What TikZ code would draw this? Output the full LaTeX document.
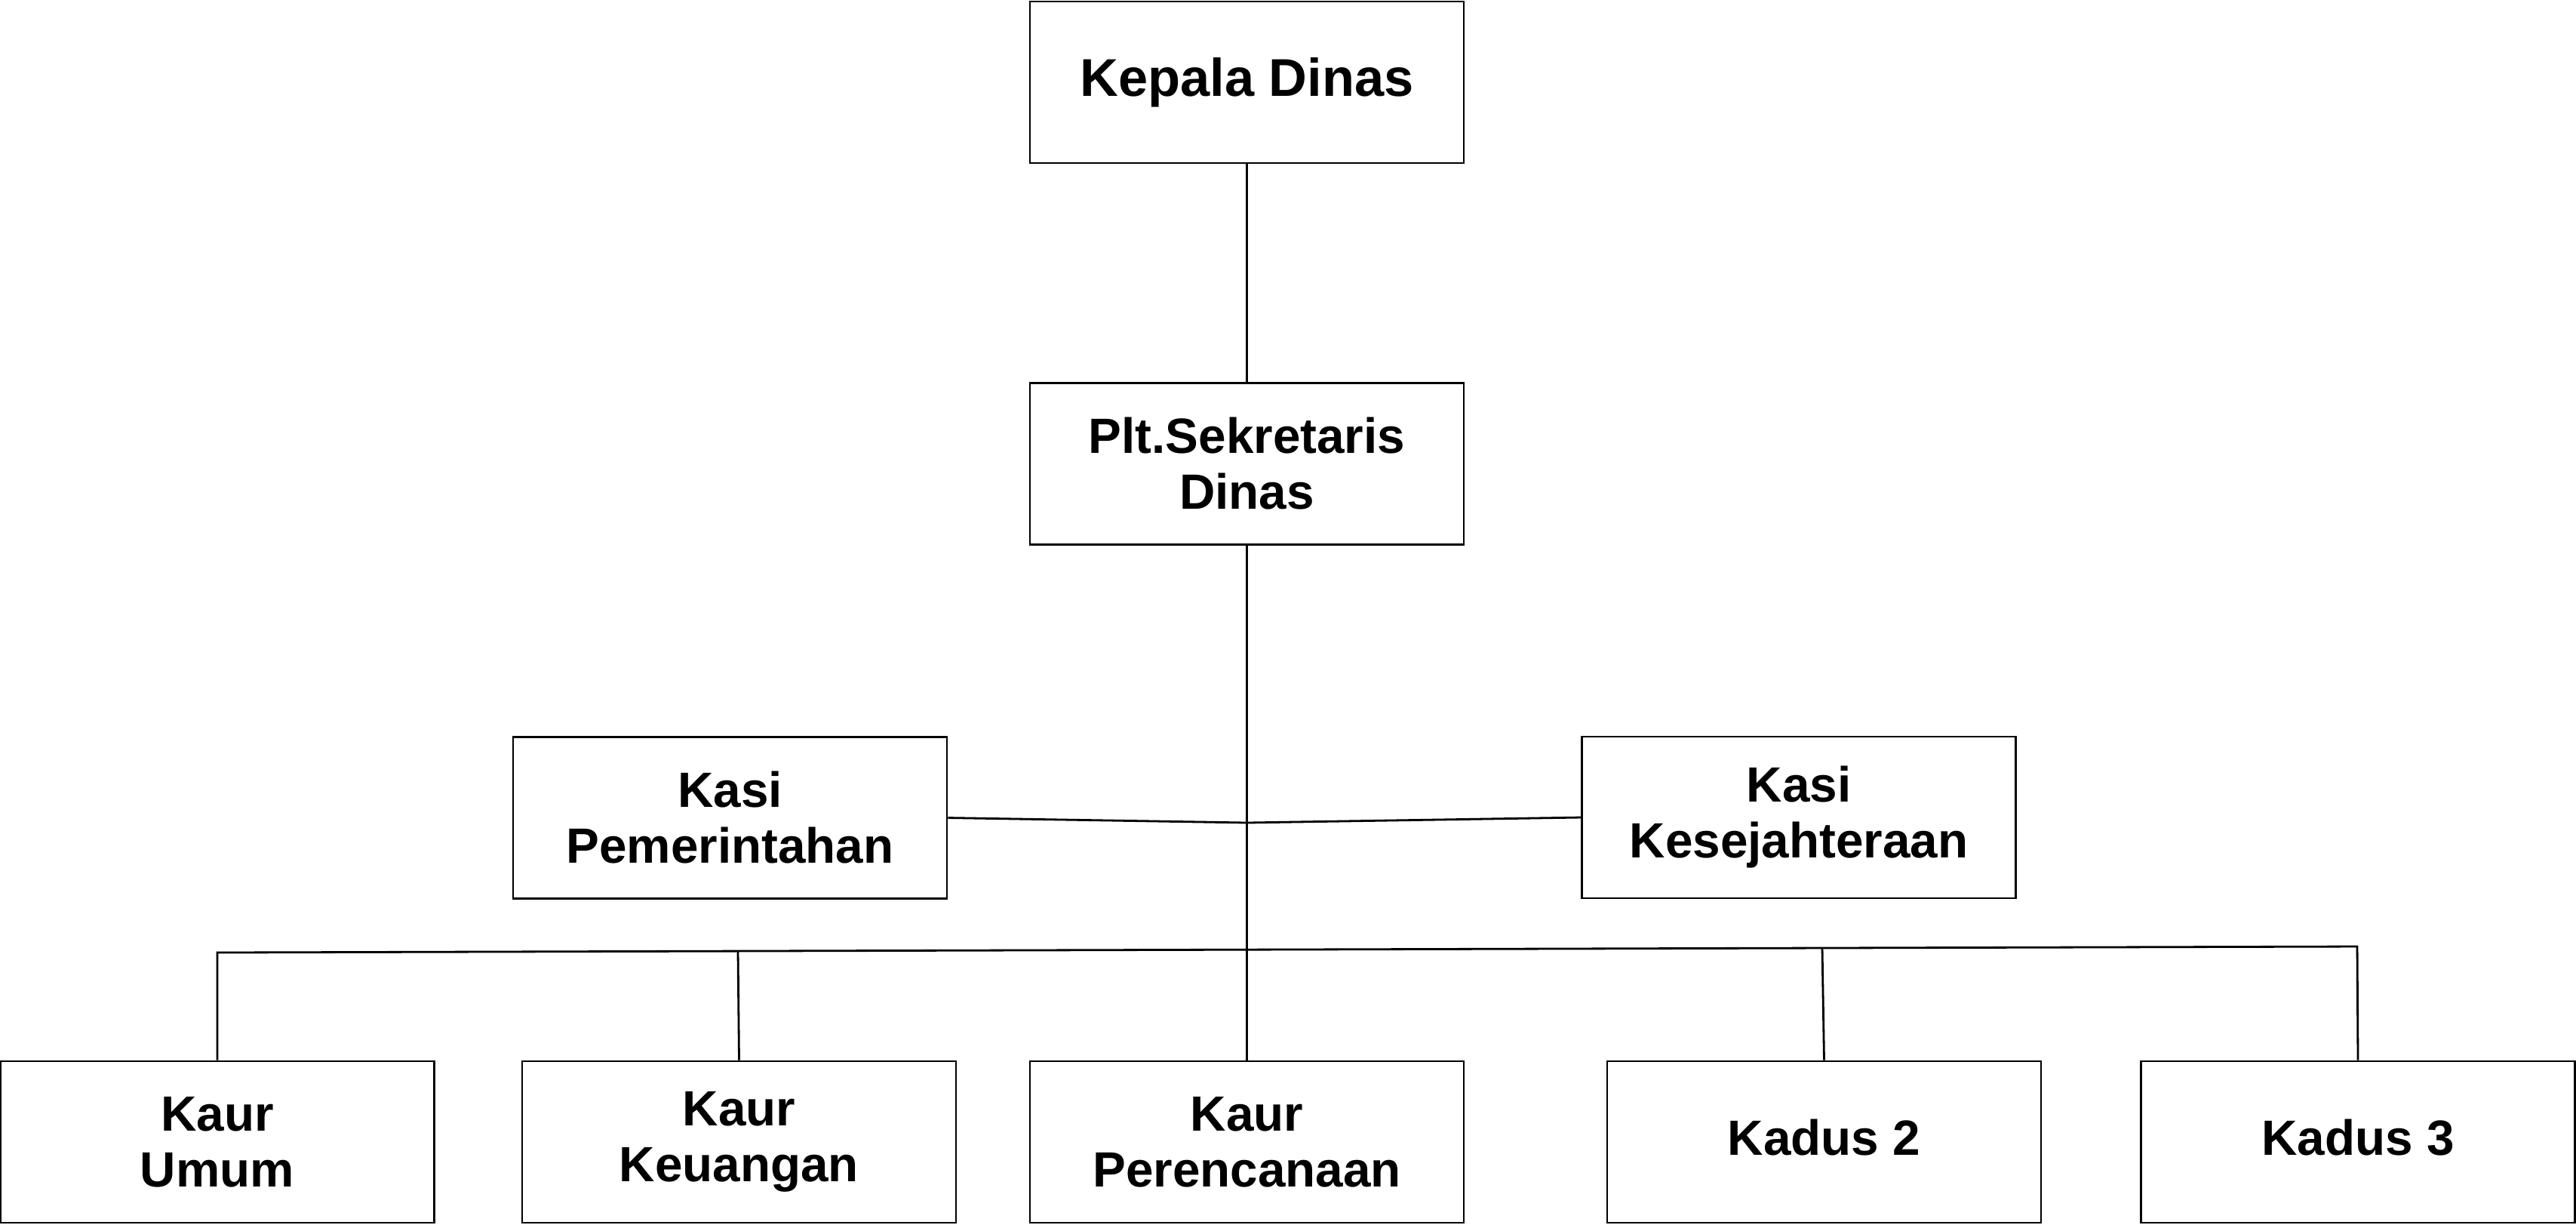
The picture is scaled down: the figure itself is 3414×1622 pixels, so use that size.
\documentclass[tikz,border=0pt]{standalone}
\usepackage{fontspec}
\setmainfont{Liberation Sans}
\begin{document}
\begin{tikzpicture}[x=0.25pt,y=-0.25pt,
  box/.style={draw=black, line width=0.7pt, minimum width=143.75pt, minimum height=53.5pt,
    inner sep=0pt, align=center, font=\bfseries\fontsize{16.4}{18.5}\selectfont},
  topbox/.style={box, font=\bfseries\fontsize{17.6}{19.5}\selectfont},
  conn/.style={draw=black, line width=0.7pt}]
\useasboundingbox (0,0) rectangle (3414,1622);
\node[topbox] (kepala) at (1652.5,109) {Kepala Dinas};
\node[box] (plt) at (1652.5,614.5) {Plt.Sekretaris\\Dinas};
\node[box] (kasip) at (967.5,1083.5) {Kasi\\Pemerintahan};
\node[box] (kasik) at (2384,1083) {Kasi\\Kesejahteraan};
\node[box] (umum) at (288,1513) {Kaur\\Umum};
\node[box] (keu) at (979.5,1513) {Kaur\\Keuangan};
\node[box] (per) at (1652.5,1513) {Kaur\\Perencanaan};
\node[box] (kadus2) at (2417.5,1513) {\raisebox{1.6pt}[\height][\depth]{Kadus 2}};
\node[box] (kadus3) at (3125,1513) {\raisebox{1.6pt}[\height][\depth]{Kadus 3}};
\coordinate (j) at (1652.5,1090);
\coordinate (b1) at (288,1262);
\coordinate (b2) at (978,1260);
\coordinate (b4) at (2415,1256);
\coordinate (b5) at (3124,1254);
\draw[conn] (kepala.south) -- (plt.north);
\draw[conn] (plt.south) -- (per.north);
\draw[conn] (kasip.east) -- (j) -- (kasik.west);
\draw[conn, line join=miter] (umum.north) -- (b1) -- (b5) -- (kadus3.north);
\draw[conn] (b2) -- (keu.north);
\draw[conn] (b4) -- (kadus2.north);
\end{tikzpicture}
\end{document}
